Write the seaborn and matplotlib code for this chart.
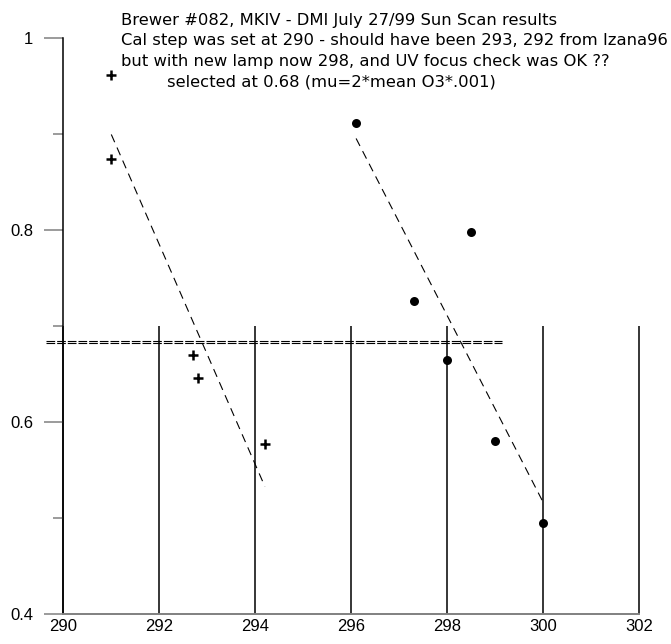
import matplotlib
matplotlib.use("Agg")
import matplotlib.pyplot as plt
import seaborn as sns

# ---- data ----
left_step = [291.0, 291.0, 292.7, 292.8, 294.2]
left_ratio = [0.961, 0.874, 0.670, 0.646, 0.577]
right_step = [296.1, 297.3, 298.0, 298.5, 299.0, 300.0]
right_ratio = [0.911, 0.726, 0.664, 0.798, 0.580, 0.495]
selected_levels = [0.6845, 0.6818]
selected_span = [289.65, 299.15]
x_ticks = [290, 292, 294, 296, 298, 300, 302]
x_tick_labels = ["290", "292", "294", "296", "298", "300", "302"]
y_major = [0.4, 0.6, 0.8, 1.0]
y_major_labels = ["0.4", "0.6", "0.8", "1"]
y_minor = [0.5, 0.7, 0.9]
title_lines = [
    "Brewer #082, MKIV - DMI July 27/99 Sun Scan results",
    "Cal step was set at 290 - should have been 293, 292 from Izana96",
    "but with new lamp now 298, and UV focus check was OK ??",
    "selected at 0.68 (mu=2*mean O3*.001)",
]

sns.set_theme(style="white")
plt.rcParams['font.family'] = ['Liberation Sans', 'DejaVu Sans']

W, H = 671, 644
fig = plt.figure(figsize=(W / 100, H / 100), dpi=100)
x0, x1 = 63.3, 639.3
y0, y1 = 37.7, 613.7
ax = fig.add_axes([x0 / W, 1 - y1 / H, (x1 - x0) / W, (y1 - y0) / H])
ax.set_facecolor("white")

sns.regplot(x=left_step, y=left_ratio, ci=None, truncate=True, marker="+",
            color="black", ax=ax,
            scatter_kws=dict(s=44, linewidths=1.8, alpha=1, zorder=4),
            line_kws=dict(lw=0.8, dashes=(7.6, 5.2)))
sns.regplot(x=right_step, y=right_ratio, ci=None, truncate=True, marker="o",
            color="black", ax=ax,
            scatter_kws=dict(s=42, linewidths=0, alpha=1, zorder=4),
            line_kws=dict(lw=0.8, dashes=(7.6, 5.2)))

for lvl in selected_levels:
    ax.plot(selected_span, [lvl, lvl], color="black", lw=0.8,
            dashes=(7.8, 1.8), clip_on=False)

ax.set_xlim(290, 302)
ax.set_ylim(0.4, 1.0)
ax.set_xticks(x_ticks)
ax.set_xticklabels(x_tick_labels)
ax.set_yticks(y_major)
ax.set_yticklabels(y_major_labels)
ax.set_yticks(y_minor, minor=True)

# x ticks drawn inward, reaching half the axes height (up to 0.7)
axes_h_pt = (y1 - y0) * 72 / 100
ax.tick_params(axis="x", which="major", direction="in", bottom=True,
               length=axes_h_pt * 0.5, width=1.1, color="black", pad=4,
               labelsize=12, labelcolor="black")
ax.tick_params(axis="y", which="major", direction="out", left=True,
               length=13.7, width=1.1, color="#808080", pad=8,
               labelsize=12, labelcolor="black")
ax.tick_params(axis="y", which="minor", direction="out", left=True,
               length=7.2, width=1.1, color="#808080")
ax.grid(False)

for s in ["top", "right"]:
    ax.spines[s].set_visible(False)
ax.spines["left"].set_color("black")
ax.spines["left"].set_linewidth(1.1)
ax.spines["bottom"].set_color("#808080")
ax.spines["bottom"].set_linewidth(1.4)

text_x = [121, 121, 121, 167]
text_base = [25, 45.5, 66, 86.5]
for t, tx, ty in zip(title_lines, text_x, text_base):
    fig.text(tx / W, 1 - ty / H, t, fontsize=11.8, color="black",
             family=["DejaVu Sans"], ha="left", va="baseline")

fig.savefig("out.png", dpi=100, facecolor="white")
